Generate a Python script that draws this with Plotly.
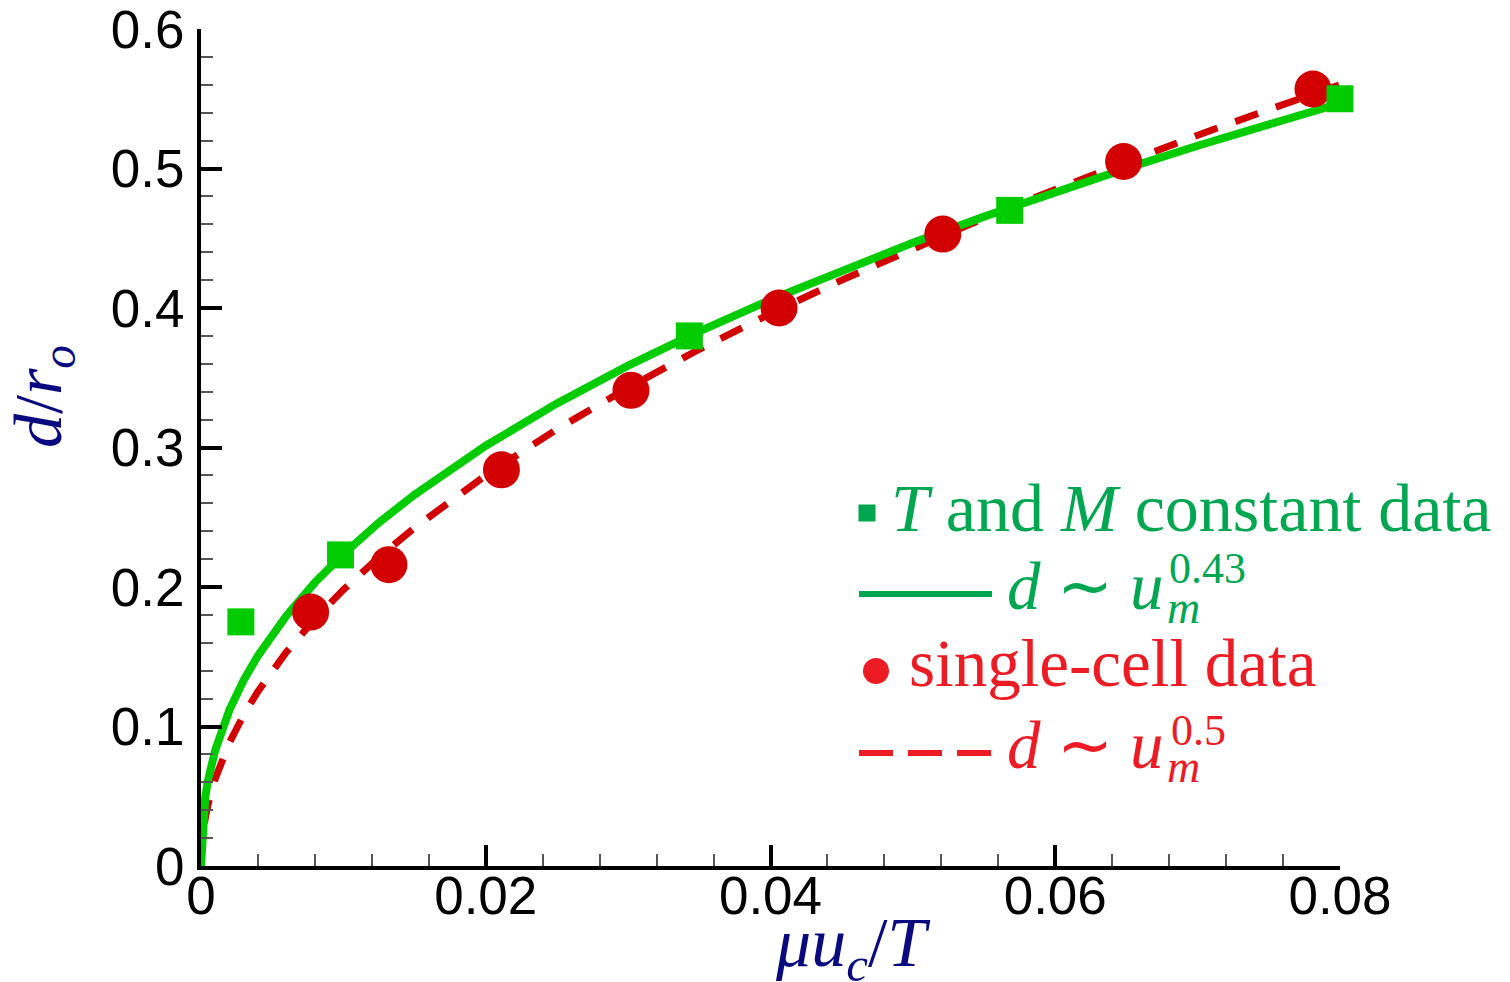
import plotly.graph_objects as go

# ---------------- data ----------------
tm_x = [0.0028, 0.0098, 0.0343, 0.0568, 0.0800]
tm_y = [0.175, 0.223, 0.380, 0.470, 0.550]

sc_x = [0.0077, 0.0132, 0.0211, 0.0302, 0.0406, 0.0521, 0.0648, 0.0781]
sc_y = [0.182, 0.216, 0.284, 0.341, 0.400, 0.453, 0.505, 0.557]

fit_x = [0.0, 0.0001, 0.0003, 0.0005, 0.001, 0.002, 0.003, 0.004, 0.006, 0.008, 0.010,
         0.0125, 0.015, 0.020, 0.025, 0.030, 0.035, 0.040, 0.045, 0.050, 0.055,
         0.060, 0.065, 0.070, 0.075, 0.080]
fit043_y = [0.0, 0.0309, 0.0495, 0.0617, 0.0831, 0.1119, 0.1333, 0.1508, 0.1795, 0.2032, 0.2236,
            0.2462, 0.2662, 0.3013, 0.3316, 0.3587, 0.3833, 0.4059, 0.4270, 0.4468, 0.4655,
            0.4832, 0.5001, 0.5163, 0.5319, 0.5468]
fit05_y = [0.0, 0.0198, 0.0343, 0.0443, 0.0626, 0.0885, 0.1084, 0.1252, 0.1534, 0.1771, 0.1980,
           0.2214, 0.2425, 0.2800, 0.3131, 0.3429, 0.3704, 0.3960, 0.4200, 0.4427, 0.4644,
           0.4850, 0.5048, 0.5239, 0.5422, 0.5600]

x_ticks = [0, 0.02, 0.04, 0.06, 0.08]
x_ticklabels = ["0", "0.02", "0.04", "0.06", "0.08"]
y_ticks = [0, 0.1, 0.2, 0.3, 0.4, 0.5, 0.6]
y_ticklabels = ["0", "0.1", "0.2", "0.3", "0.4", "0.5", "0.6"]

# ---------------- styling ----------------
W, H = 1510, 982
L, R, T, B = 201, 1340, 29, 866   # plot area in pixels
GREEN_M = "#00cc00"
RED_M = "#d20000"
GREEN_T = "#00a650"
RED_T = "#ed1c24"
NAVY = "#0a0a80"
SERIF = "Liberation Serif, Times New Roman, serif"
SANS = "Liberation Sans, Arial, sans-serif"


def px(xp):
    return (xp - L) / (R - L)


def py(yp):
    return (B - yp) / (B - T)


fig = go.Figure()
fig.add_trace(go.Scatter(x=fit_x, y=fit05_y, mode="lines",
                         line=dict(color=RED_M, width=7, dash="24px,19px"),
                         cliponaxis=False, showlegend=False))
fig.add_trace(go.Scatter(x=fit_x, y=fit043_y, mode="lines",
                         line=dict(color=GREEN_M, width=8),
                         cliponaxis=False, showlegend=False))
fig.add_trace(go.Scatter(x=sc_x, y=sc_y, mode="markers",
                         marker=dict(symbol="circle", size=37, color=RED_M, line=dict(width=0)),
                         cliponaxis=False, showlegend=False))
fig.add_trace(go.Scatter(x=tm_x, y=tm_y, mode="markers",
                         marker=dict(symbol="square", size=27, color=GREEN_M, line=dict(width=0)),
                         cliponaxis=False, showlegend=False))

shapes = []
# legend symbols
shapes.append(dict(type="rect", xref="paper", yref="paper",
                   x0=px(858.5), x1=px(875.5), y0=py(521.5), y1=py(504.5),
                   fillcolor=GREEN_T, line=dict(width=0)))
shapes.append(dict(type="line", xref="paper", yref="paper",
                   x0=px(859), x1=px(992), y0=py(594), y1=py(594),
                   line=dict(color=GREEN_T, width=6)))
shapes.append(dict(type="circle", xref="paper", yref="paper",
                   x0=px(863), x1=px(889), y0=py(684), y1=py(658),
                   fillcolor=RED_T, line=dict(width=0)))
shapes.append(dict(type="line", xref="paper", yref="paper",
                   x0=px(859), x1=px(992), y0=py(753), y1=py(753),
                   line=dict(color=RED_T, width=6, dash="34px,15px")))


def text_at(txt, xl, baseline, size, color, k=0.34):
    return dict(text=txt, xref="paper", yref="paper", showarrow=False,
                x=px(xl), y=py(baseline - k * size), xanchor="left", yanchor="middle",
                font=dict(family=SERIF, size=size, color=color), borderpad=0)


ann = []
ann.append(text_at("<i>T</i> and <i>M</i> constant data", 890, 531, 68, GREEN_T))
ann.append(text_at("<i>d</i> \u223c <i>u</i>", 1006, 609, 67, GREEN_T))
ann.append(text_at("0.43", 1168, 583, 44, GREEN_T))
ann.append(text_at("<i>m</i>", 1166, 623, 46, GREEN_T))
ann.append(text_at("single-cell data", 908, 686, 67, RED_T))
ann.append(text_at("<i>d</i> \u223c <i>u</i>", 1006, 768, 67, RED_T))
ann.append(text_at("0.5", 1170, 745, 44, RED_T))
ann.append(text_at("<i>m</i>", 1166, 782, 46, RED_T))

# axis titles
ann.append(dict(text="<i>\u03bcu</i><sub><i>c</i></sub>/<i>T</i>", xref="paper", yref="paper",
                showarrow=False, x=px(853), y=py(948), xanchor="center", yanchor="middle",
                font=dict(family=SERIF, size=70, color=NAVY), borderpad=0))
ann.append(dict(text="<i>d</i>/<i>r</i><sub><i>o</i></sub>", xref="paper", yref="paper",
                showarrow=False, x=px(42), y=py(397), xanchor="center", yanchor="middle",
                textangle=-90,
                font=dict(family=SERIF, size=68, color=NAVY), borderpad=0))

axis_common = dict(showline=True, linecolor="black", linewidth=4, mirror=False,
                   showgrid=False, zeroline=False, ticks="inside", ticklen=21,
                   tickwidth=4, tickcolor="black", ticklabeloverflow="allow",
                   automargin=False,
                   tickfont=dict(family=SANS, size=53, color="black"))

fig.update_layout(
    width=W, height=H, autosize=False,
    margin=dict(l=L, r=W - R, t=T, b=H - B, pad=0, autoexpand=False),
    paper_bgcolor="white", plot_bgcolor="white",
    xaxis=dict(range=[0, 0.08], tickvals=x_ticks, ticktext=x_ticklabels,
               minor=dict(ticks="inside", dtick=0.004, ticklen=12, tickwidth=1.5,
                          tickcolor="#555555", showgrid=False),
               ticklabelstandoff=-20,
               **axis_common),
    yaxis=dict(range=[0, 0.6], tickvals=y_ticks, ticktext=y_ticklabels,
               minor=dict(ticks="inside", dtick=0.02, ticklen=12, tickwidth=1.5,
                          tickcolor="#555555", showgrid=False),
               ticklabelstandoff=2,
               **axis_common),
    shapes=shapes, annotations=ann, showlegend=False,
)

fig.write_html("out.html", config={"displayModeBar": False},
               post_script="document.body.style.margin='0';")
